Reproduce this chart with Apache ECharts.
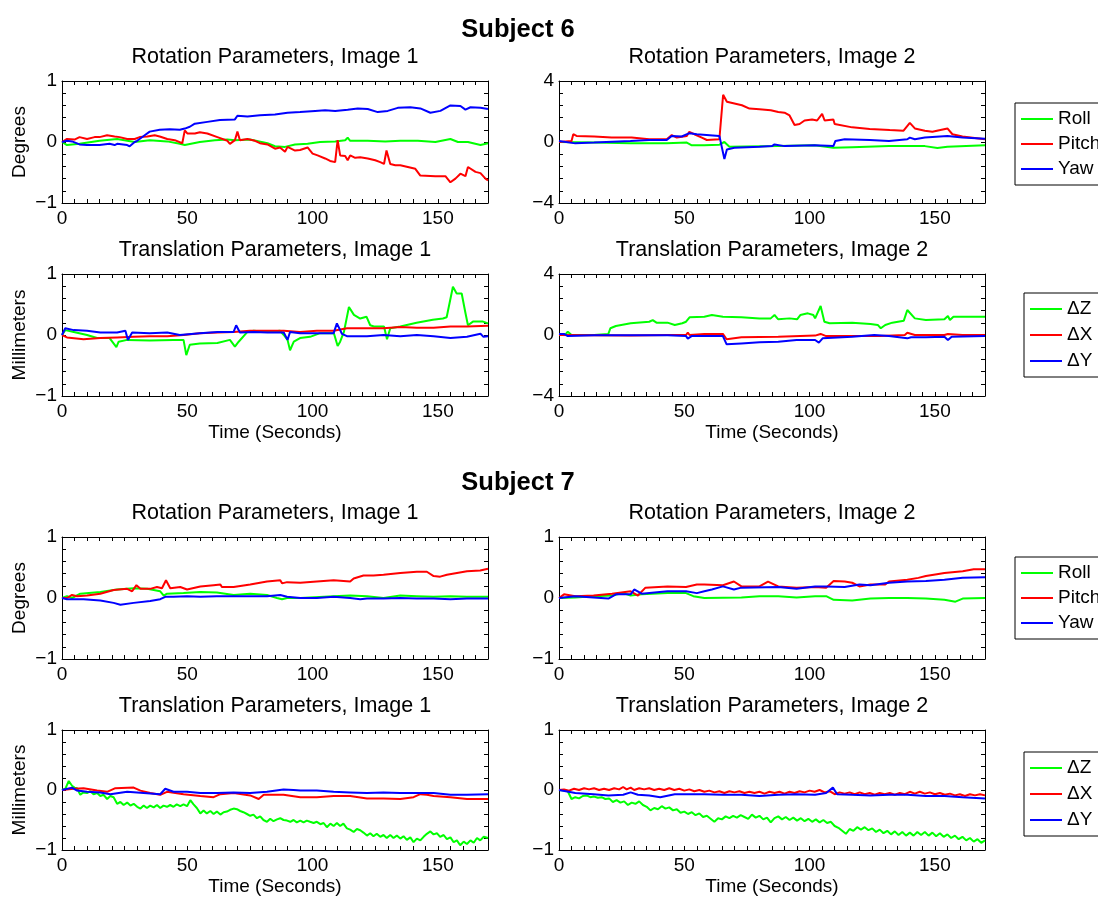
<!DOCTYPE html>
<html>
<head>
<meta charset="utf-8">
<script src="https://cdn.jsdelivr.net/npm/echarts@6/dist/echarts.min.js"></script>
<style>
html,body{margin:0;padding:0;background:#fff;}
#chart{width:1098px;height:897px;}
</style>
</head>
<body>
<div id="chart"></div>
<script>
// ---------- labels ----------
const subjectTitles = ['Subject 6', 'Subject 7'];
const panelTitles = [
  'Rotation Parameters, Image 1', 'Rotation Parameters, Image 2',
  'Translation Parameters, Image 1', 'Translation Parameters, Image 2'
];
const rotNames = ['Roll', 'Pitch', 'Yaw'];
const transNames = ['ΔZ', 'ΔX', 'ΔY'];
const xTickLabels = [0, 50, 100, 150];
const xAxisTitle = 'Time (Seconds)';
const yTitleRot = 'Degrees';
const yTitleTrans = 'Millimeters';

// ---------- Subject 6, Rotation, Image 1 ----------
const s6r1Roll = [[0,0],[2,-0.05],[7,-0.03],[15,0.02],[22,0.05],[29,0],[35,0.03],[42,0.01],[47,-0.03],[49,-0.05],[55,0],[61,0.03],[66,0.04],[69,0.03],[75,0.04],[82,-0.02],[85,-0.07],[89,-0.08],[93,-0.04],[98,-0.03],[103,0],[109,0.01],[113,0.03],[114,0.07],[115,0.02],[122,0.02],[129,0.01],[135,0.02],[142,0.02],[149,0],[155,0.05],[158,0],[162,0],[167,-0.05],[170,-0.02]];
const s6r1Pitch = [[0,0],[2,0.05],[5,0.04],[7,0.08],[10,0.05],[13,0.08],[15,0.08],[18,0.11],[21,0.09],[23,0.08],[26,0.05],[29,0.05],[31,0.08],[34,0.09],[37,0.11],[39,0.09],[42,0.05],[45,0.03],[48,-0.02],[49,0.19],[50,0.14],[53,0.14],[55,0.16],[58,0.14],[62,0.08],[66,0.02],[67,-0.03],[69,0.03],[70,0.17],[71,0.03],[74,0.05],[77,0.02],[79,-0.02],[82,-0.04],[85,-0.11],[87,-0.09],[89,-0.16],[90,-0.08],[93,-0.14],[95,-0.13],[98,-0.09],[100,-0.19],[102,-0.22],[105,-0.27],[107,-0.31],[109,-0.33],[109.5,-0.3],[110,0.03],[111,-0.22],[113,-0.23],[114,-0.3],[115,-0.22],[117,-0.26],[119,-0.25],[122,-0.27],[125,-0.3],[127,-0.33],[128.5,-0.36],[129.5,-0.14],[131,-0.36],[133,-0.38],[135,-0.38],[138,-0.41],[141,-0.44],[143,-0.55],[149,-0.56],[153,-0.56],[155,-0.66],[157,-0.6],[159,-0.52],[161,-0.56],[162,-0.41],[165,-0.49],[167,-0.51],[169,-0.6],[170,-0.63]];
const s6r1Yaw = [[0,0],[2,0.02],[4,0.01],[7,-0.04],[10,-0.05],[15,-0.05],[19,-0.03],[21,-0.05],[22,-0.03],[26,-0.05],[27,-0.07],[29,0],[30,0.02],[33,0.11],[35,0.17],[39,0.2],[43,0.21],[47,0.2],[49,0.22],[51,0.25],[53,0.3],[58,0.33],[63,0.36],[69,0.37],[70,0.43],[74,0.42],[79,0.44],[85,0.45],[90,0.48],[95,0.49],[101,0.51],[105,0.52],[109,0.51],[114,0.53],[118,0.55],[122,0.54],[126,0.49],[130,0.51],[134,0.56],[139,0.57],[143,0.55],[147,0.48],[151,0.51],[155,0.6],[159,0.59],[161,0.53],[163,0.57],[167,0.56],[170,0.54]];

// ---------- Subject 6, Rotation, Image 2 ----------
const s6r2Roll = [[0,0],[14,-0.04],[28.5,-0.09],[43,-0.09],[51,-0.04],[53,-0.22],[58,-0.22],[64,-0.18],[66,0],[68,-0.31],[87.5,-0.27],[102,-0.22],[109.5,-0.38],[117,-0.34],[131.7,-0.27],[146,-0.27],[151,-0.4],[155,-0.31],[170,-0.22]];
const s6r2Pitch = [[0,0],[5,0.07],[5.7,0.51],[7,0.4],[14,0.36],[21,0.29],[29,0.29],[36,0.18],[43,0.18],[45,0.45],[47,0.29],[51,0.4],[52,0.67],[54,0.51],[57,0.29],[59,0.13],[64,0.18],[65.5,3.1],[67,2.64],[73,2.41],[76,2.19],[80,2.15],[84.5,2.08],[87.5,1.97],[90,1.92],[92,1.74],[94,1.12],[96,1.18],[98,1.41],[101,1.47],[103,1.41],[105,1.85],[106,1.41],[109.5,1.47],[110,1.18],[117,0.96],[124,0.85],[132,0.78],[137.5,0.74],[140,1.25],[142,0.89],[146,0.74],[149,0.67],[155,0.89],[157,0.51],[161,0.36],[170,0.18]];
const s6r2Yaw = [[0,0.07],[6.5,-0.09],[14,-0.04],[28.5,0.07],[36,0.13],[43,0.13],[45,0.4],[49,0.36],[52,0.58],[55,0.51],[64,0.4],[64.7,0.29],[66,-1.12],[67,-0.49],[70,-0.38],[80,-0.31],[85,-0.27],[86,-0.16],[90,-0.27],[102,-0.22],[109.5,-0.27],[110.3,0.07],[114,0.18],[124,0.13],[131.7,0.07],[139,0.18],[140,0.29],[142,0.18],[146,0.29],[155,0.4],[161,0.29],[170,0.22]];

// ---------- Subject 6, Translation, Image 1 ----------
const s6t1DZ = [[0,0],[1.3,0.08],[4.7,0.05],[10,0],[14,-0.05],[19,-0.05],[21.7,-0.2],[22.6,-0.11],[26,-0.08],[35,-0.09],[44.5,-0.08],[48.5,-0.08],[49.6,-0.33],[51,-0.16],[55,-0.14],[62,-0.13],[67,-0.08],[69,-0.19],[70.5,-0.11],[74,0.05],[76.5,0.07],[82,0.05],[87,0.07],[88.5,0],[90,-0.08],[91,-0.25],[92.5,-0.11],[95,-0.05],[99,-0.03],[103,0.03],[108.5,0.03],[110,-0.18],[111,-0.11],[112.5,0.05],[114.5,0.46],[115,0.44],[116.5,0.33],[119,0.27],[121.5,0.3],[123,0.16],[124.5,0.14],[128.5,0.14],[129.7,-0.07],[131,0.11],[135,0.14],[141.5,0.2],[148,0.25],[152,0.27],[153.5,0.29],[156,0.79],[157.5,0.68],[159.5,0.68],[161,0.36],[162,0.16],[164,0.22],[168,0.22],[170,0.19]];
const s6t1DX = [[0,0],[2,-0.04],[8.6,-0.07],[15.3,-0.05],[22,-0.04],[28.6,-0.03],[35,-0.02],[42,-0.02],[48.5,0],[55,0.03],[62,0.04],[68.5,0.05],[75,0.07],[82,0.07],[88.5,0.07],[95,0.05],[101.7,0.07],[108.4,0.07],[113.7,0.11],[121.7,0.11],[128.3,0.11],[135,0.13],[141.6,0.12],[148.3,0.12],[155,0.14],[161.6,0.14],[170,0.15]];
const s6t1DY = [[0,0],[1.3,0.11],[4.7,0.08],[10,0.07],[15.3,0.04],[22,0.04],[25.3,0.07],[26.3,-0.08],[28,0.04],[35,0.03],[42,0.04],[47,0],[55,0.03],[62,0.05],[68.5,0.05],[69.5,0.16],[71,0.04],[76.5,0.05],[82,0.04],[88.5,0.04],[90,-0.08],[91,0.05],[95,0.03],[101.7,0.03],[108.4,0.03],[109.7,0.19],[111.7,0.02],[113.7,-0.02],[121.7,-0.02],[128.3,0],[135,-0.02],[141.6,0],[148.3,-0.02],[155,-0.05],[161.6,-0.03],[167,0.02],[168.2,-0.03],[170,-0.02]];

// ---------- Subject 6, Translation, Image 2 ----------
const s6t2DZ = [[0,0],[2.8,0.07],[3.5,0.22],[5,0],[14,0],[19.7,0.07],[20.5,0.44],[22.7,0.59],[28.6,0.77],[36,0.87],[37.4,0.98],[38.9,0.81],[43.3,0.81],[46.2,0.66],[49.2,0.77],[50.7,0.87],[52.1,1.16],[58,1.2],[61,1.31],[65.4,1.2],[72.8,1.16],[80,1.09],[84.5,1.09],[86,1.31],[87.5,1.03],[92,1.09],[95,1.03],[96.3,1.31],[99.3,1.42],[101.5,1.31],[102.2,1.09],[104.4,1.9],[105.9,0.87],[108,0.77],[117,0.81],[124.3,0.72],[127.2,0.66],[128.4,0.44],[130.2,0.66],[133,0.81],[137.6,0.94],[139,1.64],[142,1.09],[146.4,0.98],[153.8,1.03],[155.2,1.25],[156,0.98],[157.4,1.2],[161,1.2],[170,1.2]];
const s6t2DX = [[0,0],[14,-0.02],[28.6,-0.04],[43.3,0],[50.7,0],[51.4,0.15],[52.1,0],[58,0.07],[65.4,0.07],[66.9,-0.28],[72.8,-0.15],[87.5,-0.11],[102.2,-0.04],[104.4,0.07],[106.6,-0.07],[117,-0.07],[128,-0.07],[138,0],[139,0.15],[142,0],[146.4,0],[153.8,0],[155.2,0.07],[161,0],[170,0]];
const s6t2DY = [[0,0.07],[2,0.07],[3.5,-0.07],[14,-0.02],[28.6,-0.02],[43.3,-0.02],[50.7,-0.07],[51.4,-0.24],[52.9,-0.07],[61,-0.07],[65.4,-0.07],[66.9,-0.61],[72.8,-0.55],[80,-0.48],[87.5,-0.44],[94.8,-0.33],[102.2,-0.33],[103.7,-0.5],[105.2,-0.22],[117,-0.11],[125.8,0],[126.5,0.07],[131.7,-0.07],[139,-0.22],[140.5,-0.15],[146.4,-0.15],[153.8,-0.11],[155.2,-0.33],[156.7,-0.11],[170,-0.07]];

// ---------- Subject 7, Rotation, Image 1 ----------
const s7r1Roll = [[0,0],[2,0.03],[4,0],[7.3,0.07],[15.3,0.1],[22,0.14],[28.6,0.16],[34,0.15],[39.2,0.11],[40.6,0.04],[41.9,0.07],[48.5,0.08],[55.2,0.1],[61.8,0.09],[68.5,0.05],[75.1,0.07],[81.8,0.05],[85.8,0],[87.8,-0.02],[89.8,0],[95.1,0],[108.4,0.03],[115,0.04],[121.7,0.03],[128.3,0],[135,0.04],[141.6,0.03],[148.3,0.02],[155,0.03],[161.6,0.02],[170,0.02]];
const s7r1Pitch = [[0,0],[2,0],[4,0.05],[6,0.03],[10,0.04],[15.3,0.07],[20.6,0.13],[26,0.15],[28,0.11],[29.7,0.21],[31.3,0.15],[35.2,0.15],[37.9,0.18],[39.9,0.16],[41.5,0.29],[43.2,0.16],[47.2,0.18],[49.9,0.14],[55.2,0.19],[60.5,0.21],[63.2,0.22],[63.8,0.18],[68.5,0.18],[75.1,0.22],[81.8,0.27],[87.1,0.29],[87.8,0.24],[89.8,0.26],[95.1,0.25],[101.7,0.27],[108.4,0.29],[115,0.27],[116.4,0.32],[120.3,0.37],[124.3,0.37],[128.3,0.38],[135,0.41],[141.6,0.43],[145.6,0.43],[148.3,0.36],[150.9,0.35],[153.6,0.38],[161.6,0.44],[166.9,0.45],[170,0.48]];
const s7r1Yaw = [[0,0],[2,-0.02],[8.6,-0.02],[15.3,-0.04],[20.6,-0.08],[23.3,-0.11],[28.6,-0.08],[35.2,-0.05],[39.2,-0.02],[41.2,0.02],[44.5,0.02],[49.9,0.03],[55.2,0.02],[61.8,0.03],[68.5,0.03],[75.1,0.03],[81.8,0.03],[87.1,0.05],[89.8,0.02],[95.1,0],[101.7,0],[108.4,0.02],[115,0],[119,-0.02],[121.7,-0.01],[128.3,-0.01],[135,0],[141.6,-0.01],[148.3,-0.01],[155,-0.02],[161.6,-0.01],[170,-0.01]];

// ---------- Subject 7, Rotation, Image 2 ----------
const s7r2Roll = [[0,0],[6.5,0.01],[13.8,0.03],[21.2,0.04],[25.6,0.08],[28.6,0.04],[33,0.06],[43.3,0.08],[50.7,0.08],[53.6,0.03],[58,0],[72.8,0.01],[80,0.03],[87.5,0.03],[94.8,0.01],[102.2,0.03],[106.6,0.03],[109.6,-0.03],[117,-0.04],[124.3,-0.01],[131.7,0],[139,0],[146.4,-0.01],[153.8,-0.03],[158.2,-0.06],[161.1,-0.01],[170,0]];
const s7r2Pitch = [[0,0],[2,0.06],[6.5,0.03],[13.8,0.04],[21.2,0.07],[28.6,0.11],[31.5,0.04],[34.5,0.17],[43.3,0.19],[50.7,0.18],[55,0.22],[58,0.22],[65.4,0.21],[69.8,0.27],[72.8,0.19],[80,0.19],[83.4,0.27],[87.5,0.19],[94.8,0.17],[102.2,0.18],[106.6,0.17],[109.6,0.28],[114,0.27],[117,0.25],[119.9,0.19],[124.3,0.22],[130.2,0.22],[131.7,0.27],[139,0.3],[143.4,0.33],[146.4,0.36],[150.8,0.39],[153.8,0.41],[161.1,0.44],[165.5,0.47],[170,0.47]];
const s7r2Yaw = [[0,0],[6.5,0.03],[13.8,0.01],[19.7,-0.01],[22.7,0.06],[28.6,0.06],[30,0.14],[33,0.07],[43.3,0.11],[50.7,0.11],[55,0.08],[58,0.11],[61,0.14],[65.4,0.19],[69.8,0.14],[72.8,0.17],[87.5,0.18],[94.8,0.15],[102.2,0.19],[106.6,0.19],[114,0.18],[119.9,0.22],[124.3,0.21],[131.7,0.25],[139,0.27],[146.4,0.28],[153.8,0.3],[161.1,0.33],[170,0.34]];

// ---------- Subject 7, Translation, Image 1 ----------
const s7t1DZ = [[0,0],[1.3,0.02],[2.7,0.15],[4,0.07],[5,0.04],[6,0.03],[7.3,-0.08],[8.5,-0.04],[10,-0.05],[11.3,-0.02],[12.6,-0.07],[14,-0.05],[15.3,-0.1],[16.6,-0.08],[18,-0.15],[19.3,-0.1],[20.6,-0.12],[22,-0.23],[23.3,-0.2],[24.6,-0.25],[26,-0.21],[27.3,-0.26],[28.6,-0.23],[30,-0.28],[31.3,-0.31],[32.6,-0.26],[33.9,-0.3],[35.2,-0.26],[36.6,-0.29],[37.9,-0.25],[39.2,-0.3],[40.5,-0.26],[41.9,-0.28],[43.2,-0.25],[44.5,-0.28],[45.8,-0.24],[47.2,-0.27],[48.5,-0.24],[49.9,-0.27],[51.2,-0.17],[52.5,-0.24],[53.8,-0.3],[55.2,-0.39],[56.5,-0.34],[57.8,-0.39],[59.2,-0.35],[60.5,-0.4],[61.8,-0.36],[63.2,-0.41],[64.5,-0.37],[65.8,-0.36],[67.1,-0.33],[68.5,-0.31],[69.8,-0.32],[71.1,-0.35],[72.4,-0.37],[73.8,-0.4],[75.1,-0.43],[76.4,-0.41],[77.8,-0.47],[79.1,-0.44],[80.4,-0.5],[81.8,-0.53],[83.1,-0.48],[84.4,-0.52],[85.8,-0.49],[87.1,-0.47],[88.4,-0.5],[89.8,-0.51],[91.1,-0.53],[92.4,-0.5],[93.7,-0.54],[95.1,-0.51],[96.4,-0.54],[97.7,-0.51],[99,-0.53],[100.4,-0.55],[101.7,-0.53],[103.1,-0.57],[104.4,-0.55],[105.7,-0.62],[107.1,-0.56],[108.4,-0.6],[109.7,-0.55],[111,-0.6],[112.3,-0.56],[113.7,-0.64],[115,-0.66],[116.4,-0.7],[117.7,-0.65],[119,-0.67],[120.3,-0.71],[121.7,-0.76],[123,-0.72],[124.3,-0.77],[125.6,-0.73],[127,-0.78],[128.3,-0.75],[129.6,-0.8],[131,-0.75],[132.3,-0.8],[133.6,-0.76],[135,-0.81],[136.3,-0.77],[137.6,-0.83],[139,-0.79],[140.3,-0.87],[141.6,-0.81],[143,-0.84],[144.3,-0.78],[145.6,-0.73],[147,-0.69],[148.3,-0.74],[149.6,-0.72],[150.9,-0.78],[152.3,-0.75],[153.6,-0.82],[155,-0.79],[156.3,-0.87],[157.6,-0.84],[158.9,-0.92],[160.3,-0.86],[161.6,-0.9],[163,-0.84],[164.3,-0.88],[165.6,-0.8],[166.9,-0.84],[168.3,-0.78],[170,-0.8]];
const s7t1DX = [[0,0],[4.7,0.02],[8.6,0.03],[14,-0.01],[18,-0.03],[21.3,0.03],[28.6,0.04],[31.3,-0.01],[35.2,-0.05],[39.2,-0.08],[41.9,-0.03],[48.5,-0.07],[55.2,-0.1],[60.5,-0.12],[63.2,-0.07],[68.5,-0.05],[75.1,-0.09],[78.5,-0.15],[80.5,-0.08],[88.4,-0.08],[95.1,-0.12],[101.7,-0.12],[108.4,-0.1],[115,-0.1],[121.7,-0.14],[128.3,-0.14],[135,-0.15],[140.3,-0.12],[143,-0.07],[145.6,-0.08],[148.3,-0.1],[155,-0.12],[161.6,-0.15],[170,-0.15]];
const s7t1DY = [[0,0],[4,0.04],[6,-0.01],[10,-0.03],[15.3,-0.04],[19.3,-0.07],[26,-0.03],[32.6,-0.05],[39.2,-0.07],[41.2,0.02],[44.5,-0.03],[49.9,-0.03],[55.2,-0.05],[61.8,-0.05],[68.5,-0.04],[75.1,-0.05],[81.8,-0.03],[88.4,0.01],[92.4,0],[95.1,-0.01],[101.7,-0.01],[108.4,-0.03],[115,-0.04],[121.7,-0.05],[128.3,-0.04],[135,-0.05],[141.6,-0.05],[148.3,-0.05],[155,-0.08],[161.6,-0.08],[170,-0.07]];

// ---------- Subject 7, Translation, Image 2 ----------
const s7t2DZ = [[0,0],[2,-0.01],[3.5,-0.02],[5,-0.15],[6.5,-0.12],[8,-0.14],[9.5,-0.1],[11,-0.09],[12.5,-0.12],[14,-0.11],[15.5,-0.13],[17,-0.12],[18.5,-0.15],[20,-0.14],[21.5,-0.2],[23,-0.17],[24.5,-0.21],[26,-0.19],[27.5,-0.25],[29,-0.21],[30.5,-0.23],[32,-0.19],[33.5,-0.25],[35,-0.28],[36.5,-0.34],[38,-0.3],[39.5,-0.32],[41,-0.27],[42.5,-0.31],[44,-0.29],[45.5,-0.34],[47,-0.32],[48.5,-0.38],[50,-0.36],[51.5,-0.4],[53,-0.37],[54.5,-0.42],[56,-0.39],[57.5,-0.45],[59,-0.43],[60.5,-0.48],[62,-0.53],[63.5,-0.47],[65,-0.49],[66.5,-0.44],[68,-0.47],[69.5,-0.43],[71,-0.46],[72.5,-0.42],[74,-0.45],[75.5,-0.48],[77,-0.41],[78.5,-0.46],[80,-0.43],[81.5,-0.49],[83,-0.46],[84.5,-0.54],[86,-0.47],[87.5,-0.44],[89,-0.49],[90.5,-0.45],[92,-0.5],[93.5,-0.46],[95,-0.51],[96.5,-0.47],[98,-0.52],[99.5,-0.48],[101,-0.53],[102.5,-0.49],[104,-0.54],[105.5,-0.5],[107,-0.55],[108.5,-0.53],[110,-0.6],[111.5,-0.63],[113,-0.68],[114.5,-0.73],[116,-0.65],[117.5,-0.68],[119,-0.62],[120.5,-0.66],[122,-0.62],[123.5,-0.67],[125,-0.64],[126.5,-0.7],[128,-0.66],[129.5,-0.72],[131,-0.68],[132.5,-0.74],[134,-0.69],[135.5,-0.75],[137,-0.7],[138.5,-0.76],[140,-0.71],[141.5,-0.76],[143,-0.7],[144.5,-0.75],[146,-0.7],[147.5,-0.76],[149,-0.71],[150.5,-0.77],[152,-0.72],[153.5,-0.78],[155,-0.74],[156.5,-0.8],[158,-0.76],[159.5,-0.82],[161,-0.78],[162.5,-0.84],[164,-0.8],[165.5,-0.86],[167,-0.82],[168.5,-0.88],[170,-0.84]];
const s7t2DX = [[0,0],[2,0.01],[4,-0.01],[6,0.02],[8,0],[10,0.03],[12,0.01],[14,0.03],[16,0],[18,0.02],[20,0],[22,0.03],[24,0.01],[25.6,0.05],[27,0.01],[28.6,0.04],[30,0],[32,0.03],[34,0.01],[36,0.03],[38,0],[40,0.02],[42,0],[44,0.03],[46,0],[48,0.02],[50,-0.01],[52,0.01],[54,-0.02],[56,0],[58,-0.03],[60,-0.01],[62,-0.04],[64,-0.02],[66,-0.05],[68,-0.02],[70,-0.04],[72,-0.02],[74,-0.05],[76,-0.03],[78,-0.05],[80,-0.03],[82,-0.06],[84,-0.03],[86,-0.05],[88,-0.03],[90,-0.06],[92,-0.03],[94,-0.05],[96,-0.02],[98,-0.04],[100,-0.01],[102,-0.03],[104,0],[106,-0.04],[108,-0.02],[110,-0.07],[112,-0.04],[114,-0.06],[116,-0.04],[118,-0.07],[120,-0.04],[122,-0.07],[124,-0.05],[126,-0.08],[128,-0.05],[130,-0.07],[132,-0.05],[134,-0.08],[136,-0.05],[138,-0.07],[140,-0.03],[142,-0.06],[144,-0.03],[146,-0.06],[148,-0.04],[150,-0.07],[152,-0.05],[154,-0.08],[156,-0.06],[158,-0.09],[160,-0.07],[162,-0.1],[164,-0.07],[166,-0.09],[168,-0.07],[170,-0.09]];
const s7t2DY = [[0,0],[6.5,-0.05],[13.8,-0.07],[19.7,-0.09],[25.6,-0.08],[28.6,-0.04],[31.5,-0.08],[36,-0.09],[40.4,-0.12],[46.2,-0.07],[58,-0.07],[65.4,-0.08],[72.8,-0.08],[80,-0.1],[87.5,-0.08],[94.8,-0.07],[102.2,-0.08],[106.6,-0.05],[109.3,0.04],[111,-0.07],[117,-0.08],[124.3,-0.09],[131.7,-0.08],[139,-0.08],[146.4,-0.1],[153.8,-0.1],[161.1,-0.12],[170,-0.14]];

// ---------- layout / style ----------
const COLORS = ['#00ff00', '#ff0000', '#0000ff'];
const FONT = "'Liberation Sans', Arial, Helvetica, sans-serif";
const LEFT_X = 62, RIGHT_X = 559, PW = 426, PH = 122;
const ROW_TOPS = [81, 274, 537, 730];

const panels = [
  {col:0,row:0,title:panelTitles[0],yr:1,names:rotNames,ylab:yTitleRot,xlab:false,data:[s6r1Roll,s6r1Pitch,s6r1Yaw]},
  {col:1,row:0,title:panelTitles[1],yr:4,names:rotNames,ylab:null,xlab:false,data:[s6r2Roll,s6r2Pitch,s6r2Yaw]},
  {col:0,row:1,title:panelTitles[2],yr:1,names:transNames,ylab:yTitleTrans,xlab:true,data:[s6t1DZ,s6t1DX,s6t1DY]},
  {col:1,row:1,title:panelTitles[3],yr:4,names:transNames,ylab:null,xlab:true,data:[s6t2DZ,s6t2DX,s6t2DY]},
  {col:0,row:2,title:panelTitles[0],yr:1,names:rotNames,ylab:yTitleRot,xlab:false,data:[s7r1Roll,s7r1Pitch,s7r1Yaw]},
  {col:1,row:2,title:panelTitles[1],yr:1,names:rotNames,ylab:null,xlab:false,data:[s7r2Roll,s7r2Pitch,s7r2Yaw]},
  {col:0,row:3,title:panelTitles[2],yr:1,names:transNames,ylab:yTitleTrans,xlab:true,data:[s7t1DZ,s7t1DX,s7t1DY]},
  {col:1,row:3,title:panelTitles[3],yr:1,names:transNames,ylab:null,xlab:true,data:[s7t2DZ,s7t2DX,s7t2DY]}
];

const grid = [], xAxis = [], yAxis = [], series = [], graphic = [];
const tickStyle = {show:true, inside:true, length:4, lineStyle:{color:'#000', width:1}};
const lineStyleAxis = {show:true, onZero:false, lineStyle:{color:'#000', width:1}};
const labelStyle = {color:'#000', fontSize:19, fontFamily:FONT};

function fmtY(v){
  const r = Math.round(v);
  if (Math.abs(v - r) > 1e-6) return '';
  if (r === 0) return '0';
  return r < 0 ? '\u2212' + Math.abs(r) : String(r);
}

panels.forEach((p, i) => {
  const left = p.col === 0 ? LEFT_X : RIGHT_X;
  const top = ROW_TOPS[p.row];
  grid.push({left:left, top:top, width:PW, height:PH, containLabel:false});
  const xBase = {gridIndex:i, type:'value', min:0, max:170, interval:5, splitLine:{show:false}, axisLine:lineStyleAxis, axisTick:tickStyle};
  xAxis.push(Object.assign({}, xBase, {
    position:'bottom',
    axisLabel:Object.assign({}, labelStyle, {margin:6, showMaxLabel:false,
      formatter:v => (xTickLabels.indexOf(Math.round(v)) >= 0 && Math.abs(v-Math.round(v))<1e-6) ? String(Math.round(v)) : ''}),
    name:p.xlab ? xAxisTitle : '', nameLocation:'middle', nameGap:27,
    nameTextStyle:{color:'#000', fontSize:19, fontFamily:FONT}
  }));
  xAxis.push(Object.assign({}, xBase, {position:'top', axisLabel:{show:false}}));
  const yint = p.yr === 4 ? 0.8 : 0.2;
  const yBase = {gridIndex:i, type:'value', min:-p.yr, max:p.yr, interval:yint, splitLine:{show:false}, axisLine:lineStyleAxis, axisTick:tickStyle};
  yAxis.push(Object.assign({}, yBase, {
    position:'left',
    axisLabel:Object.assign({}, labelStyle, {margin:5, formatter:fmtY}),
    name:p.ylab || '', nameLocation:'middle', nameGap:33,
    nameTextStyle:{color:'#000', fontSize:19, fontFamily:FONT}
  }));
  yAxis.push(Object.assign({}, yBase, {position:'right', axisLabel:{show:false}}));
  p.data.forEach((d, k) => {
    series.push({
      type:'line', name:p.names[k], xAxisIndex:2*i, yAxisIndex:2*i, data:d,
      showSymbol:false, symbol:'none', clip:true,
      lineStyle:{color:COLORS[k], width:2}, itemStyle:{color:COLORS[k]},
      emphasis:{disabled:true}
    });
  });
  graphic.push({type:'text', style:{x:left + PW/2, y:top - 24, text:p.title, textAlign:'center', textVerticalAlign:'middle', fill:'#000', fontSize:21.5, fontFamily:FONT}});
});

graphic.push({type:'text', style:{x:518, y:30, text:subjectTitles[0], textAlign:'center', textVerticalAlign:'middle', fill:'#000', fontSize:25.5, fontWeight:'bold', fontFamily:FONT}});
graphic.push({type:'text', style:{x:518, y:483, text:subjectTitles[1], textAlign:'center', textVerticalAlign:'middle', fill:'#000', fontSize:25.5, fontWeight:'bold', fontFamily:FONT}});

function makeLegend(names, left, top, gap){
  return {
    data:names, orient:'vertical', left:left, top:top,
    icon:'rect', itemWidth:32, itemHeight:2, itemGap:gap,
    padding:[5, 40, 5, 6], borderColor:'#000', borderWidth:1, backgroundColor:'#fff',
    textStyle:{color:'#000', fontSize:19, fontFamily:FONT, lineHeight:22},
    selectedMode:false
  };
}
const legend = [
  makeLegend(rotNames, 1015, 103, 3),
  makeLegend(transNames, 1024, 293, 4),
  makeLegend(rotNames, 1015, 557, 3),
  makeLegend(transNames, 1024, 752, 4)
];

const chart = echarts.init(document.getElementById('chart'), null, {renderer:'canvas'});
chart.setOption({
  animation:false,
  backgroundColor:'#fff',
  grid, xAxis, yAxis, series, legend, graphic
});
</script>
</body>
</html>
